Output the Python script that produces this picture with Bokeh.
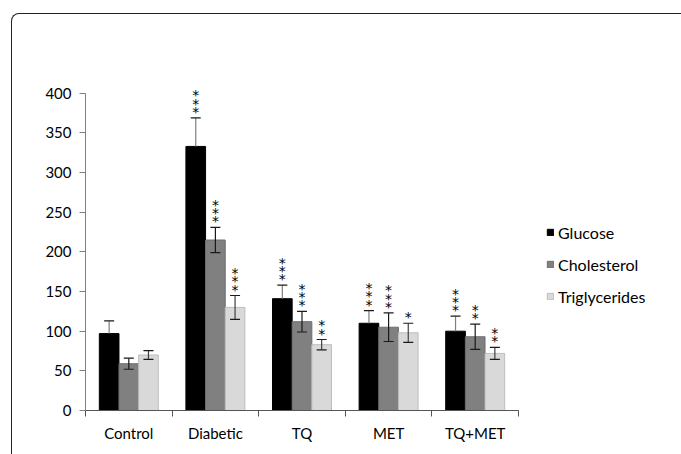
from bokeh.plotting import figure
from bokeh.models import (ColumnDataSource, FixedTicker, Legend, LegendItem, Whisker,
                          TeeHead, Range1d, InlineStyleSheet)
from bokeh.core.properties import value
from bokeh.embed import file_html
from bokeh.resources import INLINE

groups = ["Control", "Diabetic", "TQ", "MET", "TQ+MET"]
series = ["Glucose", "Cholesterol", "Triglycerides"]
glucose = [97, 333, 141, 110, 100]
glucose_err = [16, 36, 17, 16, 19]
cholesterol = [59, 215, 112, 105, 93]
cholesterol_err = [7, 16, 13, 18, 16]
triglycerides = [70, 130, 83, 98, 72]
triglycerides_err = [5.5, 15, 6.5, 12, 7.5]
glucose_stars = [0, 3, 3, 3, 3]
cholesterol_stars = [0, 3, 3, 3, 2]
triglycerides_stars = [0, 3, 2, 1, 2]
y_ticks = [0, 50, 100, 150, 200, 250, 300, 350, 400]

FONT = "Lato"
colors = ["#000000", "#808080", "#d9d9d9"]
outlines = ["#000000", "#6e6e6e", "#bdbdbd"]
whisk_colors = ["#7f7f7f", "#1a1a1a", "#404040"]
bw = 0.227

border_css = InlineStyleSheet(css="""
:host { position: relative; }
:host::after {
  content: "";
  position: absolute;
  left: 11px; top: 13px; right: 0px; bottom: 0px;
  border-left: 1.5px solid #222222;
  border-top: 1.5px solid #222222;
  border-top-left-radius: 8px;
  pointer-events: none;
}
""")

W, H = 681, 454
LEFT, RIGHT, TOP, BOTTOM = 85, 5, 69, 44
n = len(groups)
px_per_group = 433 / n
x_end = (W - LEFT - RIGHT) / px_per_group

p = figure(width=W, height=H, x_range=Range1d(0, x_end), y_range=Range1d(0, 430),
           output_backend="svg", toolbar_location=None, title=None,
           min_border_left=LEFT, min_border_right=RIGHT, min_border_top=TOP, min_border_bottom=BOTTOM)
p.stylesheets = [border_css]
p.outline_line_color = None
p.xgrid.visible = False
p.ygrid.visible = False
p.background_fill_color = "white"
p.border_fill_color = "white"

for ax in (p.xaxis[0], p.yaxis[0]):
    ax.axis_label = None
    ax.axis_label_standoff = 0
    ax.axis_label_text_font_size = "1px"

# y axis
p.yaxis.bounds = (0, 400)
p.yaxis.ticker = FixedTicker(ticks=y_ticks, minor_ticks=[])
p.yaxis.major_tick_out = 6
p.yaxis.major_tick_in = 0
p.yaxis.major_label_standoff = 8
p.yaxis.major_label_text_font = FONT
p.yaxis.major_label_text_font_size = "15px"
p.yaxis.major_label_text_color = "#000000"
p.yaxis.axis_line_color = "#7f7f7f"
p.yaxis.major_tick_line_color = "#7f7f7f"

# x axis
centers = [i + 0.5 for i in range(n)]
p.xaxis.bounds = (0, n)
p.xaxis.ticker = FixedTicker(ticks=centers, minor_ticks=list(range(n + 1)))
p.xaxis.major_label_overrides = {c: g for c, g in zip(centers, groups)}
p.xaxis.major_tick_out = 6
p.xaxis.major_tick_in = 0
p.xaxis.major_tick_line_color = None
p.xaxis.minor_tick_out = 6
p.xaxis.minor_tick_in = 0
p.xaxis.major_label_standoff = 7
p.xaxis.major_label_text_font = FONT
p.xaxis.major_label_text_font_size = "15px"
p.xaxis.major_label_text_color = "#000000"
p.xaxis.axis_line_color = "#555555"
p.xaxis.minor_tick_line_color = "#555555"

vals = [glucose, cholesterol, triglycerides]
errs = [glucose_err, cholesterol_err, triglycerides_err]
stars = [glucose_stars, cholesterol_stars, triglycerides_stars]
offsets = [-bw, 0, bw]

items = []
sx, sy, soff = [], [], []
for s, name in enumerate(series):
    xs = [c + offsets[s] for c in centers]
    up = [v + e for v, e in zip(vals[s], errs[s])]
    lo = [v if s == 0 else v - e for v, e in zip(vals[s], errs[s])]
    src = ColumnDataSource(dict(x=xs, top=vals[s], upper=up, lower=lo))
    r = p.vbar(x="x", top="top", bottom=0, width=bw, source=src,
               fill_color=colors[s], line_color=outlines[s], line_width=1)
    items.append(LegendItem(label=name, renderers=[r]))
    w = Whisker(source=src, base="x", upper="upper", lower="lower",
                line_color=whisk_colors[s], line_width=1.2, level="overlay",
                upper_head=TeeHead(size=10, line_color="#1a1a1a", line_width=1.2),
                lower_head=None if s == 0 else TeeHead(size=10, line_color="#1a1a1a", line_width=1.2))
    p.add_layout(w)
    for i in range(n):
        for k in range(stars[s][i]):
            sx.append(xs[i])
            sy.append(up[i])
            soff.append(-(6 + 8.3 * k))

star_src = ColumnDataSource(dict(x=sx, y=sy, yo=soff, t=["*"] * len(sx)))
p.text(x="x", y="y", text="t", y_offset="yo", source=star_src, text_align="center",
       text_baseline="alphabetic", text_font=value("DejaVu Sans"), text_font_size="14px",
       text_color="#000000")

legend = Legend(items=items, location=(461, 104), glyph_width=8, glyph_height=8,
                label_height=20, spacing=12, padding=0, margin=0, label_standoff=4,
                border_line_alpha=0, background_fill_alpha=0,
                label_text_font=FONT, label_text_font_size="16px", label_text_color="#000000")
p.add_layout(legend)

open("out.html", "w").write(file_html(p, INLINE))
